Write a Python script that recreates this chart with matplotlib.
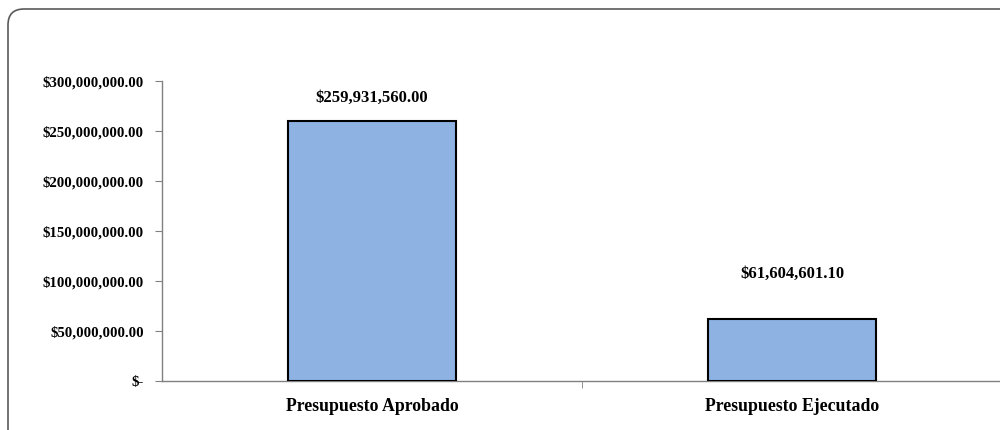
#!/usr/bin/env python3
"""Budget approved vs executed bar chart -> out.png"""
import matplotlib
matplotlib.use("Agg")
import matplotlib.pyplot as plt
from matplotlib.patches import FancyBboxPatch
from matplotlib.ticker import FuncFormatter

categories = ["Presupuesto Aprobado", "Presupuesto Ejecutado"]
values = [259931560.00, 61604601.10]
label_offsets = [22, 44]  # pt above bar top, as in the original
y_ticks = [0, 50e6, 100e6, 150e6, 200e6, 250e6, 300e6]

SERIF = ["Liberation Serif", "DejaVu Serif"]
BAR_COLOR = "#8eb3e2"
AXIS_COLOR = "#808080"


def money(v, _pos=None):
    if v == 0:
        return "$-"
    return f"${v:,.2f}"


def main() -> int:
    fig = plt.figure(figsize=(10, 4.3), dpi=100)
    W, H = 1000, 430

    # rounded frame around the chart area (partly cut at right/bottom)
    frame = FancyBboxPatch((8 / W, -20 / H), 1010 / W, (H - 9 + 20) / H,
                           boxstyle="round,pad=0,rounding_size=0.016",
                           transform=fig.transFigure, facecolor="none",
                           edgecolor="#5a5a5a", linewidth=1.2,
                           mutation_aspect=W / H)
    fig.patches.append(frame)

    ax = fig.add_axes([162 / W, 1 - 381 / H, 840 / W, 300 / H])
    x = list(range(len(categories)))
    ax.bar(x, values, width=0.4, color=BAR_COLOR, edgecolor="black",
           linewidth=1.5, zorder=3)
    ax.set_xlim(-0.5, len(categories) - 0.5)
    ax.set_ylim(0, 300e6)

    for xi, v, off in zip(x, values, label_offsets):
        ax.annotate(money(v), (xi, v), xytext=(0, off * 0.72 - 5),
                    textcoords="offset points", ha="center", va="bottom",
                    fontsize=12, fontweight="bold", family=SERIF)

    ax.set_yticks(y_ticks)
    ax.yaxis.set_major_formatter(FuncFormatter(money))
    ax.set_xticks(x)
    ax.set_xticklabels(categories)
    ax.set_xticks([0.5], minor=True)

    for lbl in ax.get_yticklabels():
        lbl.set_family(SERIF)
        lbl.set_fontweight("bold")
        lbl.set_fontsize(10.7)
    for lbl in ax.get_xticklabels():
        lbl.set_family(SERIF)
        lbl.set_fontweight("bold")
        lbl.set_fontsize(12.8)

    for side in ("top", "right"):
        ax.spines[side].set_visible(False)
    for side in ("left", "bottom"):
        ax.spines[side].set_color(AXIS_COLOR)
        ax.spines[side].set_linewidth(1.0)
    ax.tick_params(axis="y", direction="out", length=5, color=AXIS_COLOR,
                   pad=8)
    ax.tick_params(axis="x", which="major", length=0, pad=12)
    ax.tick_params(axis="x", which="minor", direction="out", length=5,
                   color=AXIS_COLOR)

    fig.savefig("out.png", dpi=100)
    plt.close(fig)
    return 0


if __name__ == "__main__":
    raise SystemExit(main())
